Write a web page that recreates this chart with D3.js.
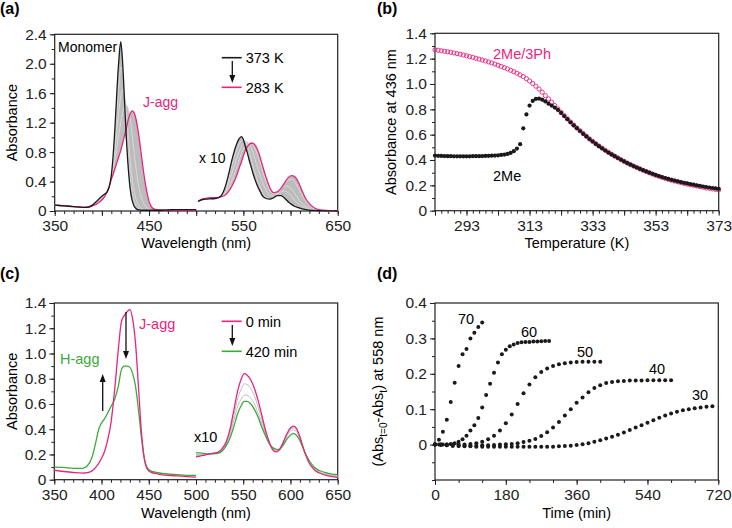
<!DOCTYPE html>
<html><head><meta charset="utf-8">
<script src="https://cdn.jsdelivr.net/npm/d3@7"></script>
<style>body{margin:0;background:#fff} text{font-family:"Liberation Sans",Arial,Helvetica,sans-serif}</style>
</head><body><svg id="c" width="732" height="528"></svg>
<script>
// ---------- Panel (a) data ----------
const aWaveL = [350,360,370,380,385,390,395,400,403,406,408,410,412,414,416,418,420,422,424,426,428,430,432,434,436,438,440,442,444,446,448,450,452,455,460,470,480,490,500];
const a373L = [.08,.07,.06,.05,.05,.08,.14,.2,.23,.27,.34,.48,.76,1.16,1.64,2.05,2.3,2.02,1.5,.98,.58,.3,.15,.07,.035,.02,.015,.01,.01,.01,.01,.01,.01,.01,.01,.015,.02,.02,.02];
const a283L = [.08,.07,.06,.05,.055,.07,.1,.15,.2,.27,.34,.43,.5,.58,.66,.74,.82,.92,1.02,1.13,1.24,1.32,1.36,1.34,1.26,1.12,.95,.75,.55,.38,.24,.13,.07,.03,.015,.01,.01,.01,.01];
const aMid1L = [.08,.07,.06,.05,.05,.08,.13,.19,.22,.27,.34,.47,.7,1.0,1.35,1.7,1.95,1.92,1.6,1.15,.75,.45,.26,.14,.08,.05,.03,.02,.015,.01,.01,.01,.01,.01,.01,.015,.02,.02,.02];
const aMid2L = [.08,.07,.06,.05,.05,.075,.12,.18,.21,.27,.34,.46,.64,.86,1.1,1.35,1.55,1.65,1.58,1.35,1.02,.7,.45,.28,.17,.1,.06,.035,.02,.015,.01,.01,.01,.01,.01,.015,.02,.02,.02];
const aMid3L = [.08,.07,.06,.05,.05,.07,.11,.17,.21,.27,.35,.45,.57,.72,.88,1.04,1.2,1.33,1.42,1.45,1.4,1.25,1.05,.82,.6,.42,.28,.18,.11,.07,.04,.025,.015,.01,.01,.012,.015,.015,.015];
const aWaveR = [502,506,510,515,520,525,530,534,538,542,546,548,550,552,554,556,558,560,562,564,566,568,570,574,578,582,586,590,594,598,601,604,608,612,616,620,625,630,640,650];
const a373R = [.13,.15,.16,.165,.17,.19,.3,.48,.7,.88,.99,1.01,.97,.88,.8,.7,.61,.52,.44,.37,.31,.26,.21,.17,.16,.18,.21,.21,.17,.12,.09,.065,.045,.03,.02,.012,.008,.005,.002,0];
const a283R = [.13,.16,.17,.18,.18,.19,.21,.26,.34,.45,.6,.67,.75,.82,.87,.9,.92,.92,.9,.86,.8,.72,.63,.46,.32,.25,.26,.31,.39,.46,.48,.47,.4,.28,.17,.1,.045,.02,.005,0];
const aMid1R = [.13,.15,.16,.17,.17,.19,.27,.42,.62,.8,.92,.96,.97,.95,.9,.82,.72,.62,.53,.45,.38,.32,.26,.19,.17,.18,.22,.26,.27,.24,.2,.15,.1,.06,.035,.02,.01,.006,.002,0];
const aMid2R = [.13,.15,.165,.175,.175,.19,.24,.36,.52,.68,.82,.88,.92,.94,.94,.92,.87,.8,.72,.63,.55,.47,.4,.28,.21,.2,.24,.3,.34,.33,.3,.25,.17,.1,.06,.035,.018,.008,.003,0];
const aMid3R = [.13,.16,.17,.18,.18,.19,.22,.3,.42,.56,.71,.78,.84,.89,.91,.92,.92,.9,.86,.8,.72,.64,.56,.4,.28,.23,.25,.32,.39,.42,.43,.4,.32,.22,.13,.07,.03,.014,.004,0];
const aXTicks = [350,450,550,650];
const aYTicks = [0,0.4,0.8,1.2,1.6,2.0,2.4];

// ---------- Panel (b) data ----------
const bTemp = [283,284,285,286,287,288,289,290,291,292,293,294,295,296,297,298,299,300,301,302,303,304,305,306,307,308,309,310,311,312,313,314,315,316,317,318,319,320,321,322,323,324,325,326,327,328,329,330,331,332,333,334,335,336,337,338,339,340,341,342,343,344,345,346,347,348,349,350,351,352,353,354,355,356,357,358,359,360,361,362,363,364,365,366,367,368,369,370,371,372,373];
const b2Me3Ph = [1.270,1.266,1.262,1.258,1.254,1.250,1.245,1.240,1.235,1.229,1.222,1.216,1.210,1.203,1.196,1.189,1.182,1.174,1.166,1.157,1.148,1.139,1.129,1.119,1.108,1.097,1.085,1.072,1.059,1.042,1.024,1.004,0.983,0.960,0.935,0.908,0.882,0.856,0.830,0.803,0.776,0.750,0.725,0.700,0.676,0.653,0.631,0.609,0.588,0.567,0.548,0.529,0.511,0.494,0.477,0.461,0.446,0.431,0.417,0.403,0.389,0.376,0.364,0.352,0.341,0.330,0.319,0.309,0.299,0.289,0.279,0.271,0.263,0.255,0.248,0.241,0.234,0.228,0.222,0.216,0.210,0.205,0.200,0.195,0.190,0.185,0.180,0.176,0.172,0.168,0.164];
const b2Me = [.435,.433,.432,.431,.430,.430,.429,.429,.429,.429,.429,.429,.430,.430,.430,.431,.432,.433,.434,.435,.437,.440,.443,.448,.456,.470,.490,.525,.650,.760,.830,.866,.882,.885,.876,.862,.845,.830,.814,.795,.772,.747,.722,.698,.674,.651,.629,.607,.586,.565,.546,.527,.509,.492,.475,.459,.444,.430,.416,.402,.389,.376,.364,.352,.341,.330,.320,.310,.300,.291,.282,.274,.266,.258,.251,.244,.238,.232,.226,.220,.215,.210,.205,.200,.196,.191,.187,.183,.179,.176,.173];
const bXTicks = [293,313,333,353,373];
const bYTicks = [0,0.2,0.4,0.6,0.8,1.0,1.2,1.4];

// ---------- Panel (c) data ----------
const cWaveL = [350,360,370,380,385,390,394,397,400,403,406,410,414,418,421,424,427,430,433,436,439,442,445,448,452,460,470,480,490,500];
const c0minL = [.075,.065,.057,.052,.056,.07,.1,.13,.17,.22,.3,.45,.72,1.05,1.25,1.3,1.33,1.35,1.27,1.08,.75,.4,.18,.09,.06,.045,.035,.03,.025,.02];
const c420minL = [.1,.097,.09,.09,.11,.18,.3,.4,.45,.48,.52,.58,.64,.75,.87,.9,.9,.89,.84,.74,.56,.35,.18,.1,.07,.055,.045,.04,.035,.035];
const cWaveR = [500,506,512,518,524,528,532,536,540,544,548,551,554,558,562,566,570,574,578,582,585,588,592,596,600,603,606,610,615,620,625,630,640,650];
const c0minR = [.18,.19,.2,.21,.22,.25,.3,.4,.55,.7,.8,.84,.83,.79,.72,.62,.5,.38,.29,.23,.22,.235,.29,.36,.41,.425,.41,.34,.22,.13,.08,.055,.03,.018];
const cMid1R = [.19,.195,.2,.208,.215,.24,.29,.38,.51,.64,.72,.76,.755,.72,.66,.57,.47,.36,.28,.23,.225,.235,.285,.35,.4,.41,.4,.33,.22,.135,.085,.06,.035,.025];
const cMid2R = [.2,.2,.2,.207,.212,.235,.28,.36,.47,.58,.64,.67,.67,.645,.6,.52,.44,.35,.28,.24,.23,.235,.28,.34,.385,.395,.385,.32,.22,.14,.09,.065,.04,.03];
const c420minR = [.215,.21,.205,.205,.21,.23,.27,.33,.42,.52,.59,.62,.62,.6,.555,.49,.41,.34,.28,.25,.24,.24,.27,.32,.355,.365,.355,.31,.22,.15,.1,.075,.05,.04];
const cXTicks = [350,400,450,500,550,600,650];
const cYTicks = [0,0.2,0.4,0.6,0.8,1.0,1.2,1.4];

// ---------- Panel (d) data ----------
const dT70 = [0,10,20,30,40,50,60,70,80,90,100,110,120];
const dV70 = [0.001,0.014,0.036,0.07,0.12,0.175,0.222,0.255,0.27,0.3,0.316,0.332,0.345];
const dT60 = [0,10,20,30,40,50,60,70,80,90,100,110,120,130,140,150,160,170,180,190,200,210,220,230,240,250,260,270,280,290];
const dV60 = [0,0,0,0,.002,.004,.008,.015,.025,.04,.055,.075,.105,.14,.172,.203,.232,.255,.268,.278,.283,.287,.289,.29,.29,.291,.291,.292,.293,.293];
const dT50 = [0,15,30,45,60,75,90,105,120,135,150,165,180,195,210,225,240,255,270,285,300,315,330,345,360,375,390,405,420];
const dV50 = [0,0,0,0,0,0,.002,.004,.008,.015,.025,.04,.06,.085,.115,.145,.17,.19,.205,.215,.222,.227,.23,.232,.233,.234,.234,.234,.234];
const dT40 = [0,15,30,45,60,75,90,105,120,135,150,165,180,195,210,225,240,255,270,285,300,315,330,345,360,375,390,405,420,435,450,465,480,495,510,525,540,555,570,585,600];
const dV40 = [0,0,-.002,-.003,-.003,-.003,-.003,-.003,-.002,-.002,-.001,0,.001,.002,.004,.007,.011,.016,.024,.035,.048,.064,.082,.1,.118,.133,.148,.16,.168,.174,.177,.179,.18,.181,.181,.181,.182,.182,.182,.182,.182];
const dT30 = [0,15,30,45,60,75,90,105,120,135,150,165,180,195,210,225,240,255,270,285,300,315,330,345,360,375,390,405,420,435,450,465,480,495,510,525,540,555,570,585,600,615,630,645,660,675,690,705];
const dV30 = [0,-.001,-.002,-.003,-.004,-.005,-.005,-.006,-.006,-.006,-.006,-.006,-.006,-.006,-.006,-.006,-.006,-.006,-.006,-.006,-.006,-.005,-.004,-.003,-.001,.001,.004,.008,.012,.017,.022,.028,.034,.041,.048,.055,.062,.069,.076,.082,.088,.093,.097,.1,.103,.105,.107,.108];
const dXTicks = [0,180,360,540,720];
const dYTicks = [0,0.1,0.2,0.3,0.4];

// ---------- drawing ----------
const PINK = "#e8267f", GREEN = "#3daa3a", BLACK = "#1a1a1a";
const svg = d3.select("#c");
const FONT = '"Liberation Sans",Arial,Helvetica,sans-serif';
const TICKFS = 15.5, ANNFS = 14;

function panel(p){
  const x = d3.scaleLinear().domain(p.xd).range([p.x0,p.x1]);
  const y = d3.scaleLinear().domain(p.yd).range([p.y0,p.y1]);
  const g = svg.append("g");
  const style = s => { s.select(".domain").remove(); s.selectAll("line").attr("stroke","#222").attr("stroke-width",1);
    s.selectAll("text").attr("font-size",TICKFS).attr("font-family",FONT).attr("fill","#222"); };
  g.append("g").attr("transform",`translate(0,${p.y0})`).call(d3.axisBottom(x).tickValues(p.xminor).tickSize(3).tickFormat("")).call(style);
  if (p.xmid) g.append("g").attr("transform",`translate(0,${p.y0})`).call(d3.axisBottom(x).tickValues(p.xmid).tickSize(5).tickFormat("")).call(style);
  g.append("g").attr("transform",`translate(0,${p.y0})`).call(d3.axisBottom(x).tickValues(p.xt).tickSize(5).tickPadding(4).tickFormat(d3.format("d"))).call(style);
  g.append("g").attr("transform",`translate(${p.x0},0)`).call(d3.axisLeft(y).tickValues(p.yminor).tickSize(3).tickFormat("")).call(style);
  g.append("g").attr("transform",`translate(${p.x0},0)`).call(d3.axisLeft(y).tickValues(p.yt).tickSize(5).tickPadding(3).tickFormat(p.yfmt)).call(style);
  g.append("rect").attr("x",p.x0).attr("y",p.y1).attr("width",p.x1-p.x0).attr("height",p.y0-p.y1)
    .attr("fill","none").attr("stroke","#222").attr("stroke-width",1.2);
  g.append("text").attr("x",(p.x0+p.x1)/2).attr("y",p.xtY).attr("text-anchor","middle").attr("font-size",14.5).text(p.xtitle);
  const yt = g.append("text").attr("transform",`translate(${p.ytX},${(p.y0+p.y1)/2}) rotate(-90)`).attr("text-anchor","middle").attr("font-size",14.5);
  if (typeof p.ytitle === "string") yt.text(p.ytitle); else p.ytitle(yt);
  svg.append("text").attr("x",p.lx).attr("y",p.ly).attr("font-size",16).attr("font-weight","bold").text(p.label);
  return {x,y,g};
}
const fmt1 = d => d===0 ? "0" : d3.format(".1f")(d);

function drawLine(g, x, y, xs, vs, color, w){
  const line = d3.line().x(i=>x(xs[i])).y(i=>y(vs[i])).curve(d3.curveMonotoneX);
  g.append("path").attr("d", line(d3.range(xs.length))).attr("fill","none").attr("stroke",color).attr("stroke-width",w);
}
function drawEnvelope(g, x, y, xs, list, color){
  const idx = d3.range(xs.length);
  const area = d3.area().x(i=>x(xs[i])).y0(i=>y(d3.min(list,s=>s[i]))).y1(i=>y(d3.max(list,s=>s[i]))).curve(d3.curveMonotoneX);
  g.append("path").attr("d", area(idx)).attr("fill",color).attr("stroke","none");
}
function arrow(g, xp, ya, yb){
  const dir = yb>ya ? 1 : -1;
  g.append("line").attr("x1",xp).attr("x2",xp).attr("y1",ya).attr("y2",yb-dir*6).attr("stroke","#111").attr("stroke-width",1.3);
  g.append("path").attr("d",`M${xp-3},${yb-dir*8} L${xp+3},${yb-dir*8} L${xp},${yb} Z`).attr("fill","#111");
}
function legendItem(g, x1, x2, yy, color, label){
  g.append("line").attr("x1",x1).attr("x2",x2).attr("y1",yy).attr("y2",yy).attr("stroke",color).attr("stroke-width",1.6);
  g.append("text").attr("x",x2+4).attr("y",yy+5.5).attr("font-size",ANNFS+0.5).text(label);
}

// ----- (a)
{
  const P = panel({x0:54.7,x1:337.7,y0:211,y1:34.3,xd:[350,650],yd:[0,2.4],
    xt:aXTicks, xmid:[400,500,600], xminor:d3.range(350,651,10), yt:aYTicks, yminor:d3.range(0,2.41,0.2), yfmt:fmt1,
    xtitle:"Wavelength (nm)", xtY:248, ytitle:"Absorbance", ytX:17, label:"(a)", lx:0, ly:14});
  const {x,y,g} = P;
  drawEnvelope(g,x,y,aWaveL,[a373L,a283L,aMid1L,aMid2L,aMid3L],"#bcbcbc");
  drawEnvelope(g,x,y,aWaveR,[a373R,a283R,aMid1R,aMid2R,aMid3R],"#bcbcbc");
  [aMid1L,aMid2L,aMid3L].forEach(s=>drawLine(g,x,y,aWaveL,s,"#e4e4e4",0.7));
  [aMid1R,aMid2R,aMid3R].forEach(s=>drawLine(g,x,y,aWaveR,s,"#e4e4e4",0.7));
  drawLine(g,x,y,aWaveL,a283L,PINK,1.3);
  drawLine(g,x,y,aWaveL,a373L,BLACK,1.3);
  drawLine(g,x,y,aWaveR,a283R,PINK,1.3);
  drawLine(g,x,y,aWaveR,a373R,BLACK,1.3);
  g.append("text").attr("x",58).attr("y",52).attr("font-size",ANNFS).text("Monomer");
  g.append("text").attr("x",143).attr("y",107).attr("font-size",ANNFS).attr("fill",PINK).text("J-agg");
  g.append("text").attr("x",199).attr("y",163).attr("font-size",ANNFS).text("x 10");
  legendItem(g,221.7,241.7,57.7,BLACK,"373 K");
  arrow(g,232.3,61,83);
  legendItem(g,221.7,241.7,87.3,PINK,"283 K");
}
// ----- (b)
{
  const P = panel({x0:435,x1:718.7,y0:210.7,y1:33.3,xd:[283,373],yd:[0,1.4],
    xt:bXTicks, xmid:[283,303,323,343,363], xminor:d3.range(283,374,2), yt:bYTicks, yminor:d3.range(0,1.41,0.1), yfmt:fmt1,
    xtitle:"Temperature (K)", xtY:248, ytitle:"Absorbance at 436 nm", ytX:396, label:"(b)", lx:377, ly:14});
  const {x,y,g} = P;
  g.selectAll("circle.p").data(bTemp).enter().append("circle").attr("cx",(d)=>x(d)).attr("cy",(d,i)=>y(b2Me3Ph[i])).attr("r",2.1)
    .attr("fill","none").attr("stroke",PINK).attr("stroke-width",0.9);
  g.selectAll("circle.k").data(bTemp).enter().append("circle").attr("cx",(d)=>x(d)).attr("cy",(d,i)=>y(b2Me[i])).attr("r",2.1)
    .attr("fill",BLACK);
  g.append("text").attr("x",493).attr("y",59).attr("font-size",ANNFS+0.5).attr("fill",PINK).text("2Me/3Ph");
  g.append("text").attr("x",493).attr("y",181).attr("font-size",ANNFS+0.5).text("2Me");
}
// ----- (c)
{
  const P = panel({x0:54.3,x1:337.7,y0:479.7,y1:303,xd:[350,650],yd:[0,1.4],
    xt:cXTicks, xminor:d3.range(350,651,10), yt:cYTicks, yminor:d3.range(0,1.41,0.1), yfmt:fmt1,
    xtitle:"Wavelength (nm)", xtY:518, ytitle:"Absorbance", ytX:17, label:"(c)", lx:0, ly:279});
  const {x,y,g} = P;
  drawLine(g,x,y,cWaveR,cMid1R,"#b9c0c6",1);
  drawLine(g,x,y,cWaveR,cMid2R,"#b9c0c6",1);
  drawLine(g,x,y,cWaveL,c420minL,GREEN,1.3);
  drawLine(g,x,y,cWaveL,c0minL,PINK,1.3);
  drawLine(g,x,y,cWaveR,c420minR,GREEN,1.3);
  drawLine(g,x,y,cWaveR,c0minR,PINK,1.3);
  g.append("text").attr("x",139).attr("y",329).attr("font-size",ANNFS+0.5).attr("fill",PINK).text("J-agg");
  g.append("text").attr("x",60).attr("y",364).attr("font-size",ANNFS+0.5).attr("fill",GREEN).text("H-agg");
  g.append("text").attr("x",194).attr("y",442).attr("font-size",ANNFS+0.5).text("x10");
  arrow(g,126,312,359);
  arrow(g,102.7,411,374);
  legendItem(g,221.7,241.7,321.3,PINK,"0 min");
  arrow(g,232.3,325,346);
  legendItem(g,221.7,241.7,351.3,GREEN,"420 min");
}
// ----- (d)
{
  const P = panel({x0:435,x1:718.3,y0:480,y1:303,xd:[0,720],yd:[-0.1,0.4],
    xt:dXTicks, xminor:d3.range(0,721,60), yt:dYTicks, yminor:d3.range(-0.1,0.401,0.05), yfmt:d=>d===0?"0":d3.format(".1f")(d),
    xtitle:"Time (min)", xtY:518, ytX:383, label:"(d)", lx:377, ly:279,
    ytitle: t => { t.append("tspan").text("(Abs");
      t.append("tspan").attr("font-size",10).attr("dy",4).text("t=0");
      t.append("tspan").attr("dy",-4).text("-Abs");
      t.append("tspan").attr("font-size",10).attr("dy",4).text("t");
      t.append("tspan").attr("dy",-4).text(") at 558 nm"); }});
  const {x,y,g} = P;
  [[dT70,dV70],[dT60,dV60],[dT50,dV50],[dT40,dV40],[dT30,dV30]].forEach(([ts,vs])=>{
    g.append("g").selectAll("circle").data(ts).enter().append("circle")
      .attr("cx",d=>x(d)).attr("cy",(d,i)=>y(vs[i])).attr("r",2).attr("fill",BLACK);
  });
  [["70",458,324],["60",521,337],["50",577,357],["40",649,374],["30",692,400]].forEach(([t,xx,yy])=>
    g.append("text").attr("x",xx).attr("y",yy).attr("font-size",ANNFS+0.5).text(t));
}
</script>
</body></html>
